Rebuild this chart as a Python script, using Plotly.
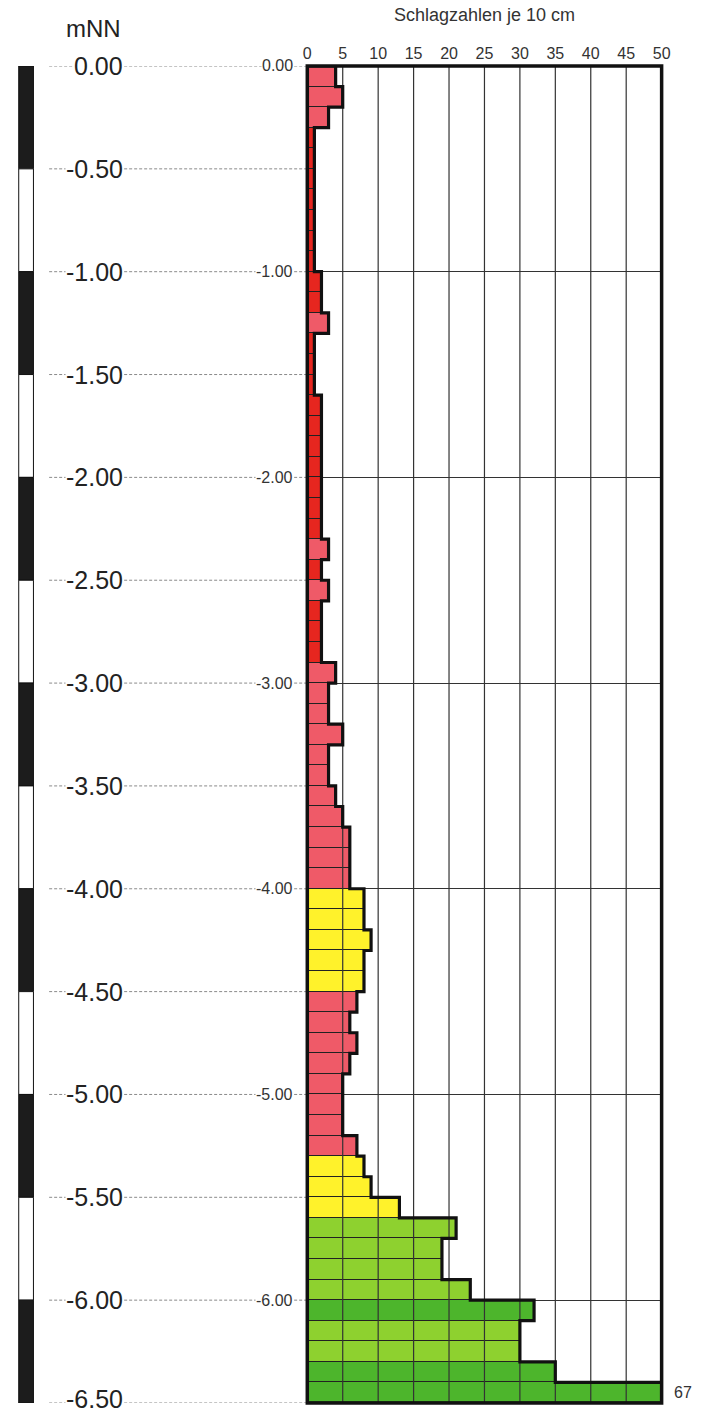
import plotly.graph_objects as go

# ---------------- data ----------------
# blow counts per 10 cm (DPH), from 0.00 down to -6.50 mNN
blows = [4, 5, 3, 1, 1, 1, 1, 1, 1, 1,
         2, 2, 3, 1, 1, 1, 2, 2, 2, 2,
         2, 2, 2, 3, 2, 3, 2, 2, 2, 4,
         3, 3, 5, 3, 3, 4, 5, 6, 6, 6,
         8, 8, 9, 8, 8, 7, 6, 7, 6, 5,
         5, 5, 7, 8, 9, 13, 21, 19, 19, 23,
         32, 30, 30, 35, 67]
step_m = 0.1
x_ticks = [0, 5, 10, 15, 20, 25, 30, 35, 40, 45, 50]
depth_labels = [0.0, -0.5, -1.0, -1.5, -2.0, -2.5, -3.0, -3.5, -4.0, -4.5,
                -5.0, -5.5, -6.0, -6.5]
meter_labels = [0.0, -1.0, -2.0, -3.0, -4.0, -5.0, -6.0]
x_max = 50
x_title = "Schlagzahlen je 10 cm"
y_title = "mNN"

# ---------------- styling helpers ----------------
W, H = 704, 1414
PX0, PX1 = 309, 670      # plot area in px
PY0, PY1 = 66, 1403
FONT = "Liberation Sans, Arial, Helvetica, sans-serif"

def px(xp):
    return xp / W

def colour(v):
    if v <= 2:
        return "#E6261F"
    if v <= 7:
        return "#EF5A68"
    if v <= 15:
        return "#FFF22B"
    if v <= 31:
        return "#8ED12F"
    return "#4DB52C"

n = len(blows)
tops = [-round(i * step_m, 2) for i in range(n)]
centers = [t - step_m / 2 for t in tops]
disp = [min(v, x_max) for v in blows]
y_bottom = tops[-1] - step_m

fig = go.Figure()

fig.add_trace(go.Bar(
    orientation="h", x=disp, y=centers, base=0, width=step_m,
    marker=dict(color=[colour(v) for v in blows],
                line=dict(color="#222", width=1)),
    hoverinfo="skip", showlegend=False))

# vertical grid over the bars
gx, gy = [], []
for t in x_ticks[1:-1]:
    gx += [t, t, None]
    gy += [0, y_bottom, None]
fig.add_trace(go.Scatter(x=gx, y=gy, mode="lines",
                         line=dict(color="#333", width=1.2),
                         hoverinfo="skip", showlegend=False))

# thick outline of the profile
ox, oy = [0], [0]
for t, v in zip(tops, disp):
    ox += [v, v]
    oy += [t, t - step_m]
ox += [0]
oy += [y_bottom]
fig.add_trace(go.Scatter(x=ox, y=oy, mode="lines",
                         line=dict(color="#111", width=3.2),
                         hoverinfo="skip", showlegend=False))

shapes = []
annotations = []

# frame
shapes.append(dict(type="rect", xref="x domain", yref="y domain",
                   x0=0, x1=1, y0=0, y1=1, layer="above",
                   line=dict(color="#111", width=3.5)))

# dashed level lines + labels
for d in depth_labels:
    shapes.append(dict(type="line", xref="paper", yref="y",
                       x0=px(46), x1=px(PX0 - 1), y0=d, y1=d, layer="below",
                       line=dict(color="#8a8a8a", width=1, dash="3px,2px")))
    at_bottom = (d == depth_labels[-1])
    annotations.append(dict(xref="paper", yref="y", x=px(122), y=d,
                            xanchor="right",
                            yanchor="bottom" if at_bottom else "middle",
                            yshift=-(H - PY1) if at_bottom else 0,
                            text=f"{d:.2f}" if d != 0 else "0.00",
                            showarrow=False, bgcolor="white", borderpad=0,
                            font=dict(family=FONT, size=25, color="#222")))
for d in meter_labels:
    annotations.append(dict(xref="paper", yref="y", x=px(295), y=d,
                            xanchor="right", yanchor="middle",
                            text=f"{d:.2f}" if d != 0 else "0.00",
                            showarrow=False, bgcolor="white", borderpad=0,
                            font=dict(family=FONT, size=16, color="#333")))

# scale bar on the left
for i in range(len(depth_labels) - 1):
    shapes.append(dict(type="rect", xref="paper", yref="y",
                       x0=px(15), x1=px(30),
                       y0=depth_labels[i], y1=depth_labels[i + 1],
                       fillcolor="#1c1c1c" if i % 2 == 0 else "white",
                       line=dict(color="#111", width=1), layer="above"))

# values beyond the axis
for c, v in zip(centers, blows):
    if v > x_max:
        annotations.append(dict(xref="paper", yref="y", x=px(692), y=c,
                                xanchor="center", yanchor="middle",
                                text=str(v), showarrow=False,
                                font=dict(family=FONT, size=16, color="#333")))

annotations.append(dict(xref="paper", yref="paper", x=px(490), y=1 - 15 / H,
                        xanchor="center", yanchor="middle", text=x_title,
                        showarrow=False,
                        font=dict(family=FONT, size=18, color="#333")))
annotations.append(dict(xref="paper", yref="paper", x=px(91), y=1 - 29 / H,
                        xanchor="center", yanchor="middle", text=y_title,
                        showarrow=False,
                        font=dict(family=FONT, size=24, color="#222")))

fig.update_layout(
    width=W, height=H,
    margin=dict(l=0, r=0, t=0, b=0),
    paper_bgcolor="white", plot_bgcolor="white",
    bargap=0,
    shapes=shapes, annotations=annotations,
    xaxis=dict(domain=[px(PX0), px(PX1)], range=[0, x_max], side="top",
               tickvals=x_ticks, ticks="", showgrid=False, zeroline=False,
               showline=False, ticklabelstandoff=3,
               tickfont=dict(family=FONT, size=16, color="#333"),
               fixedrange=True),
    yaxis=dict(domain=[1 - PY1 / H, 1 - PY0 / H], range=[y_bottom, 0],
               tickvals=meter_labels, showticklabels=False, ticks="",
               showgrid=True, gridcolor="#333", gridwidth=1,
               zeroline=False, showline=False, fixedrange=True),
)

fig.write_html("out.html",
               config={"displayModeBar": False},
               post_script="document.body.style.margin='0';"
                           "document.body.style.overflow='hidden';")
